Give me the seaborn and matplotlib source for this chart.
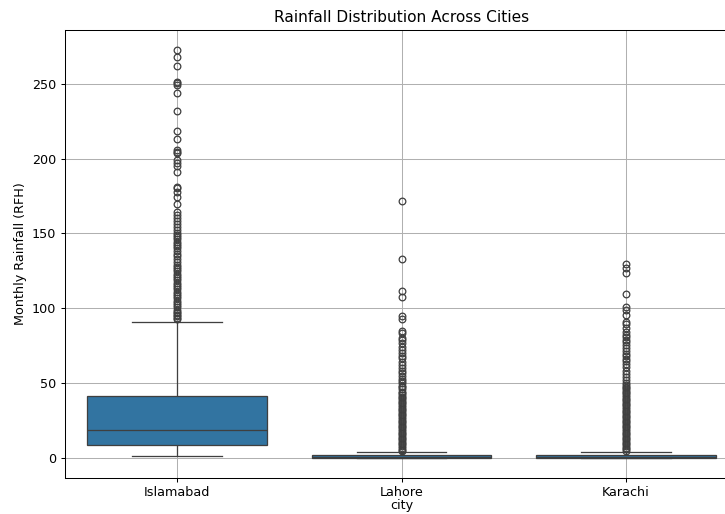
import numpy as np
import pandas as pd
import matplotlib
matplotlib.use("Agg")
import matplotlib.pyplot as plt
import seaborn as sns

cities = ["Islamabad", "Lahore", "Karachi"]

# Typical months: rainfall value (RFH) and how many months share it
islamabad_levels = [1.0, 2.5, 4.5, 6.5, 8.7, 11.0, 14.0, 17.0, 18.8, 23.0, 28.0, 34.0,
                    41.5, 50.0, 60.0, 70.0, 80.0, 88.0, 90.5]
islamabad_counts = [15, 20, 25, 25, 30, 25, 30, 25, 15, 25, 25, 25, 25, 5, 4, 3, 3, 2, 2]
# Unusually wet months
islamabad_extremes = [272.3, 268.0, 261.6, 251.0, 250.2, 249.4, 243.7, 231.6, 218.2, 213.2,
                      205.6, 204.5, 203.5, 198.8, 196.8, 194.8, 191.2, 181.2, 180.2, 177.8,
                      174.5, 169.8, 164.0, 162.5, 160.5, 158.0, 156.0, 154.0, 152.0, 150.5,
                      149.0, 147.5, 146.0, 144.5, 143.0, 141.5, 140.0, 138.0, 136.0, 134.5,
                      132.5, 130.5, 129.0, 127.5, 126.0, 124.5, 123.0, 121.5, 120.0, 118.5,
                      117.0, 115.5, 114.0, 112.5, 111.0, 109.5, 108.0, 106.5, 105.0, 103.5,
                      102.0, 100.5, 99.0, 97.5, 96.5, 95.5, 94.5, 93.5, 92.5]

lahore_levels = [0.0, 0.3, 0.6, 1.0, 1.5, 2.2, 2.8, 3.5]
lahore_counts = [120, 55, 65, 65, 40, 22, 12, 8]
lahore_extremes = [171.8, 132.7, 111.5, 107.2, 94.5, 93.0, 85.0, 83.0, 80.0, 78.5,
                   76.5, 74.0, 72.0, 70.0, 68.0, 66.5, 64.0, 62.0, 60.0, 58.0,
                   56.5, 54.5, 52.5, 51.0, 49.6, 48.1, 46.9, 45.7, 44.2, 43.1,
                   42.0, 40.8, 39.7, 38.5, 37.4, 36.2, 35.0, 33.9, 32.8, 31.6,
                   30.5, 29.3, 28.2, 27.0, 25.9, 24.8, 23.6, 22.5, 21.3, 20.2,
                   19.0, 17.9, 16.8, 15.6, 14.5, 13.3, 12.2, 11.0, 9.9, 8.8,
                   7.6, 6.5, 5.4, 4.5]

karachi_levels = [0.0, 0.2, 0.5, 0.8, 1.0, 1.5, 2.2, 2.8]
karachi_counts = [140, 55, 55, 55, 35, 22, 14, 9]
karachi_extremes = [129.4, 126.5, 123.2, 109.5, 100.7, 98.5, 95.5, 90.7, 89.6, 86.5,
                    84.0, 82.0, 80.5, 78.5, 77.0, 75.0, 73.5, 71.5, 69.5, 68.0,
                    66.0, 64.5, 62.5, 60.5, 58.0, 56.0, 54.0, 52.0, 50.0, 48.5,
                    47.4, 46.3, 45.1, 44.0, 42.9, 41.7, 40.6, 39.5, 38.3, 37.2,
                    36.1, 34.9, 33.8, 32.7, 31.5, 30.4, 29.3, 28.1, 27.0, 25.9,
                    24.7, 23.6, 22.5, 21.3, 20.2, 19.1, 17.9, 16.8, 15.7, 14.5,
                    13.4, 12.3, 11.1, 10.0, 8.9, 7.7, 6.6, 5.5, 4.4, 3.5]


def city_frame(name, levels, counts, extremes):
    values = np.concatenate([np.repeat(levels, counts), np.asarray(extremes)])
    return pd.DataFrame({"city": name, "rfh": values})


df = pd.concat([
    city_frame("Islamabad", islamabad_levels, islamabad_counts, islamabad_extremes),
    city_frame("Lahore", lahore_levels, lahore_counts, lahore_extremes),
    city_frame("Karachi", karachi_levels, karachi_counts, karachi_extremes),
], ignore_index=True)

W, H, DPI = 725, 514, 92
fig = plt.figure(figsize=(W / DPI, H / DPI), dpi=DPI)
ax = fig.add_axes([65 / W, 1 - 478 / H, (738 - 65) / W, (478 - 30) / H])

sns.boxplot(data=df, x="city", y="rfh", order=cities, ax=ax, fliersize=5.2)

ax.set_title("Rainfall Distribution Across Cities")
ax.set_xlabel("city", labelpad=0)
ax.set_ylabel("Monthly Rainfall (RFH)")
ax.tick_params(axis="x", pad=2.5)
ax.grid(True)

fig.savefig("out.png", dpi=DPI)
